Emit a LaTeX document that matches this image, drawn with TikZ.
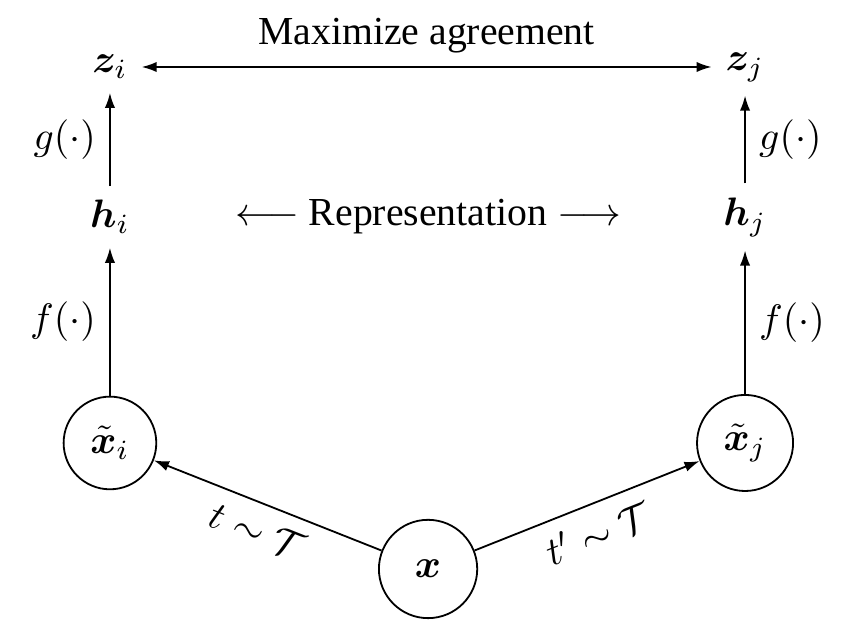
\documentclass[tikz,border=0pt]{standalone}
\usepackage[no-math]{fontspec}
\setmainfont{Liberation Serif}
\usepackage{bm}
\usetikzlibrary{arrows.meta}

\begin{document}
\begin{tikzpicture}[
    view/.style={draw, circle, line width=0.016cm, minimum size=0.820000cm, inner sep=0pt},
    flow/.style={line width=0.016cm, -{Latex[length=3.8pt,width=2.6pt]}},
    both/.style={line width=0.016cm, {Latex[length=3.8pt,width=2.6pt]}-{Latex[length=3.8pt,width=2.6pt]}}
  ]
  \useasboundingbox (0,0) rectangle (7.575000,5.593000);
  {\normalsize

  % Marking input x by circle
  \node [view, minimum size=0.870000cm] (x) at (3.788000,0.558000) { $\bm{x}$ };%

  % Marking view x_i by circle
  \node [view] (xi) at (0.973000,1.673000) { $\tilde{\bm{x}}_i$ };%

  % Marking view x_j by circle
  \node [view, minimum size=0.850000cm] (xj) at (6.593000,1.673000) { $\tilde{\bm{x}}_j$ };%

  % Marking point h_i
  \node (hi) at (0.973000,3.673000) { $\bm{h}_i$ };%

  % Marking point h_j
  \node (hj) at (6.593000,3.673000) { $\bm{h}_j$ };%

  % Marking point z_i
  \node (zi) at (0.973000,5.000000) { $\bm{z}_i$ };%

  % Marking point z_j
  \node (zj) at (6.593000,5.000000) { $\bm{z}_j$ };%

  % Marking representation text
  \node (rep) at (3.788000,3.673000) { $\longleftarrow$ Representation $\longrightarrow$ };%

  % Drawing augmentations
  \draw [flow] (x) -- (xi) node [midway, sloped, below] { $t \sim \mathcal{T}$ };%
  \draw [flow] (x) -- (xj) node [midway, sloped, below] { $t' \sim \mathcal{T}$ };%

  % Drawing encoders f
  \draw [flow] (xi) -- (hi) node [midway, left] { $f(\cdot)$ };%
  \draw [flow] (xj) -- (hj) node [midway, right] { $f(\cdot)$ };%

  % Drawing projection heads g
  \draw [flow] (hi) -- (zi) node [midway, left] { $g(\cdot)$ };%
  \draw [flow] (hj) -- (zj) node [midway, right] { $g(\cdot)$ };%

  % Drawing agreement
  \draw [both] (zi) -- (zj) node [midway, above] { Maximize agreement };%
  }
\end{tikzpicture}
\end{document}
